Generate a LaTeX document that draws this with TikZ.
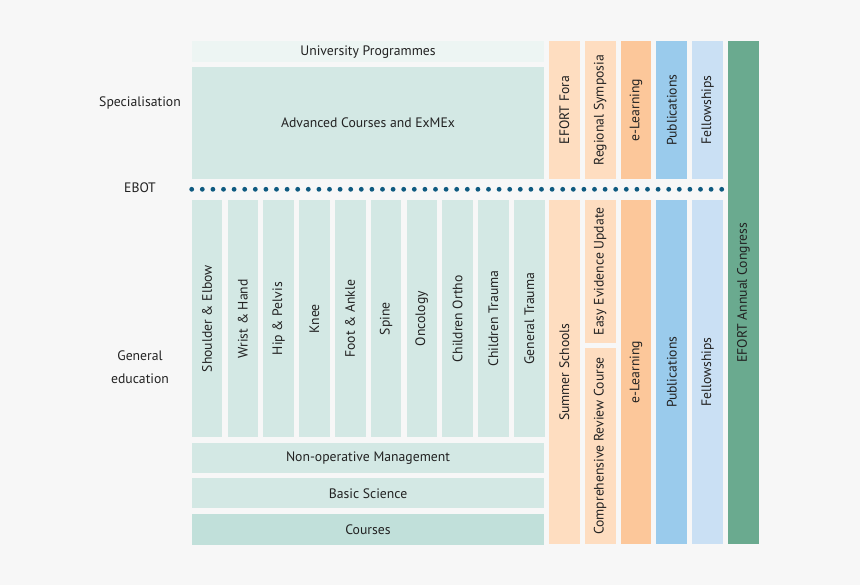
\documentclass[tikz,border=0pt]{standalone}
\usepackage{fontspec}
\setmainfont{PT Sans}
\usepackage{tikz}
\usetikzlibrary{positioning}
\definecolor{bgcol}{HTML}{F7F7F7}
\definecolor{txtcol}{HTML}{222222}
\definecolor{unicol}{HTML}{EDF5F3}
\definecolor{tealcol}{HTML}{D3E8E4}
\definecolor{coursecol}{HTML}{C1E0DA}
\definecolor{peachcol}{HTML}{FEDDC0}
\definecolor{orangecol}{HTML}{FCC79A}
\definecolor{bluecol}{HTML}{9ACBEC}
\definecolor{paleblue}{HTML}{CAE0F4}
\definecolor{greencol}{HTML}{6AAA8F}
\definecolor{dotcol}{HTML}{0E5A80}
\newcommand{\lbl}{\fontsize{13.7}{16}\selectfont}
\tikzset{
  cell/.style={rectangle, inner sep=0pt, text=txtcol, font=\lbl},
  upright/.style={cell, rotate=90},
  side/.style={text=txtcol, font=\lbl, align=center}
}

\begin{document}
\begin{tikzpicture}[x=1pt, y=-1pt]
		%%%%% BACKGROUND %%%%%
		\fill[bgcol] (0, 0) rectangle (860, 585);
		\useasboundingbox (0, 0) rectangle (860, 585);
		
		%%%%% LEFT LABELS %%%%%
		\node[side] (spec) at (140, 103) {Specialisation};
		\node[side] (ebot) at (140, 188) {EBOT};
		\node[side] (gen) at (140, 356) {General};
		\node[side] (edu) at (140, 379) {education};
		
		%%%%% SPECIALISATION %%%%%
		\node[cell, fill=unicol, minimum width=352.6, minimum height=21] (uni) at (368, 52) {University Programmes};
		\node[cell, fill=tealcol, minimum width=352.6, minimum height=112.6] (adv) at (368, 123) {Advanced Courses and ExMEx};
		
		\node[upright, fill=peachcol, minimum width=138.3, minimum height=30.8] (fora) at (564.4, 110.2) {EFORT Fora};
		\node[upright, fill=peachcol, minimum width=138.3, minimum height=30.8] (symp) at (600.2, 110.2) {Regional Symposia};
		\node[upright, fill=orangecol, minimum width=138.3, minimum height=30.8] (elearnA) at (636, 110.2) {e-Learning};
		\node[upright, fill=bluecol, minimum width=138.3, minimum height=30.8] (pubA) at (671.8, 110.2) {Publications};
		\node[upright, fill=paleblue, minimum width=138.3, minimum height=30.8] (fellA) at (707.6, 110.2) {Fellowships};
		
		\node[upright, fill=greencol, minimum width=503.3, minimum height=30.8] (congress) at (743.4, 292.7) {EFORT Annual Congress};
		
		%%%%% EBOT DOTS %%%%%
		\foreach \i in {0,...,50}
			\fill[dotcol] (191.7+10.6*\i, 189.3) circle (2.4);
		
		%%%%% GENERAL EDUCATION %%%%%
		\foreach \t [count=\k from 0] in {Shoulder \& Elbow, Wrist \& Hand, Hip \& Pelvis, Knee, Foot \& Ankle, Spine, Oncology, Children Ortho, Children Trauma, General Trauma}
			\node[upright, fill=tealcol, minimum width=237.3, minimum height=30.6] (sub\k) at (207+35.8*\k, 318.7) {\t};
		
		\node[cell, fill=tealcol, minimum width=352.6, minimum height=30] (nonop) at (368, 457.7) {Non-operative Management};
		\node[cell, fill=tealcol, minimum width=352.6, minimum height=30] (basic) at (368, 493.3) {Basic Science};
		\node[cell, fill=coursecol, minimum width=352.6, minimum height=30.7] (courses) at (368, 529.7) {Courses};
		
		\node[upright, fill=peachcol, minimum width=344.3, minimum height=30.8] (summer) at (564.4, 372.2) {Summer Schools};
		\node[upright, fill=peachcol, minimum width=142.7, minimum height=30.8] (easy) at (600.2, 271.3) {Easy Evidence Update};
		\node[upright, fill=peachcol, minimum width=196.6, minimum height=30.8] (review) at (600.2, 446) {Comprehensive Review Course};
		\node[upright, fill=orangecol, minimum width=344.3, minimum height=30.8] (elearnB) at (636, 372.2) {e-Learning};
		\node[upright, fill=bluecol, minimum width=344.3, minimum height=30.8] (pubB) at (671.8, 372.2) {Publications};
		\node[upright, fill=paleblue, minimum width=344.3, minimum height=30.8] (fellB) at (707.6, 372.2) {Fellowships};
		
		%%%%% END %%%%%
	\end{tikzpicture}
\end{document}
